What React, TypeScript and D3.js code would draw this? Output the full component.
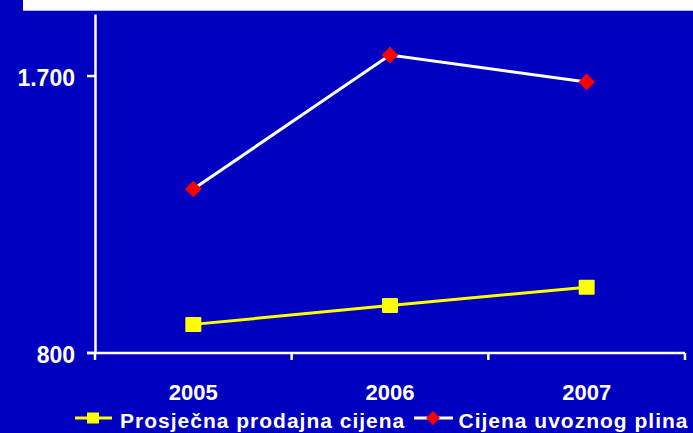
import React from "react";
import * as d3 from "d3";

const years = ["2005", "2006", "2007"];
const prosjecnaProdajnaCijena = [893, 954, 1014];
const cijenaUvoznogPlina = [1333, 1768, 1681];
const yTicks = [800, 1700];
const yTickLabels = ["800", "1.700"];
const seriesNames = ["Prosječna prodajna cijena", "Cijena uvoznog plina"];

const W = 693;
const H = 433;
const BG = "#0000C0";
const FONT = "'Liberation Sans', Arial, sans-serif";

export default function App() {
  const x = d3.scaleBand<string>().domain(years).range([95, 685]).padding(0);
  const y = d3.scaleLinear().domain([800, 1900]).range([353, 14.5]);
  const cx = (d: string) => (x(d) as number) + x.bandwidth() / 2;

  const line = d3
    .line<number>()
    .x((_, i) => cx(years[i]))
    .y((v) => y(v));

  const xTickPos = [...years.map((d) => x(d) as number), x.range()[1]];
  const diamond = (r: number) => `M0,${-r}L${r},0L0,${r}L${-r},0Z`;

  return (
    <svg
      width={W}
      height={H}
      style={{ position: "fixed", left: 0, top: 0, display: "block" }}
      fontFamily={FONT}
    >
      <rect x={0} y={0} width={W} height={H} fill={BG} />
      <rect x={23} y={0} width={W - 23} height={10.7} fill="#FFFFFF" />

      {/* axes */}
      <line x1={95.5} x2={95.5} y1={y.range()[1]} y2={y(800)} stroke="#fff" strokeWidth={2.5} />
      <line x1={87} x2={685} y1={y(800)} y2={y(800)} stroke="#fff" strokeWidth={2.5} />
      {yTicks.map((t, i) => (
        <g key={t}>
          <line x1={87} x2={95} y1={y(t)} y2={y(t)} stroke="#fff" strokeWidth={2.5} />
          <text
            x={75}
            y={y(t) + 10}
            textAnchor="end"
            fill="#fff"
            fontWeight="bold"
            fontSize={23}
          >
            {yTickLabels[i]}
          </text>
        </g>
      ))}
      {xTickPos.map((p, i) => (
        <line key={i} x1={p} x2={p} y1={y(800)} y2={360} stroke="#fff" strokeWidth={2.5} />
      ))}
      {years.map((d) => (
        <text
          key={d}
          x={cx(d)}
          y={400}
          textAnchor="middle"
          fill="#fff"
          fontWeight="bold"
          fontSize={22}
        >
          {d}
        </text>
      ))}

      {/* series */}
      <path d={line(cijenaUvoznogPlina) || ""} fill="none" stroke="#fff" strokeWidth={3} />
      <path d={line(prosjecnaProdajnaCijena) || ""} fill="none" stroke="#FFFF00" strokeWidth={3} />
      {cijenaUvoznogPlina.map((v, i) => (
        <path
          key={i}
          d={diamond(8.3)}
          transform={`translate(${cx(years[i])},${y(v)})`}
          fill="#FF0000"
        />
      ))}
      {prosjecnaProdajnaCijena.map((v, i) => (
        <rect
          key={i}
          x={cx(years[i]) - 8}
          y={y(v) - 7.5}
          width={16}
          height={15}
          fill="#FFFF00"
          rx={1}
        />
      ))}

      {/* legend */}
      <line x1={75} x2={112} y1={418} y2={418} stroke="#FFFF00" strokeWidth={3} />
      <rect x={87} y={412.5} width={12} height={11} fill="#FFFF00" />
      <text x={120} y={428} fill="#fff" fontWeight="bold" fontSize={21} letterSpacing={1}>
        {seriesNames[0]}
      </text>
      <line x1={414} x2={453} y1={418} y2={418} stroke="#fff" strokeWidth={3} />
      <path d={diamond(7)} transform="translate(433,418)" fill="#FF0000" />
      <text x={458.5} y={428} fill="#fff" fontWeight="bold" fontSize={21} letterSpacing={1}>
        {seriesNames[1]}
      </text>
    </svg>
  );
}
